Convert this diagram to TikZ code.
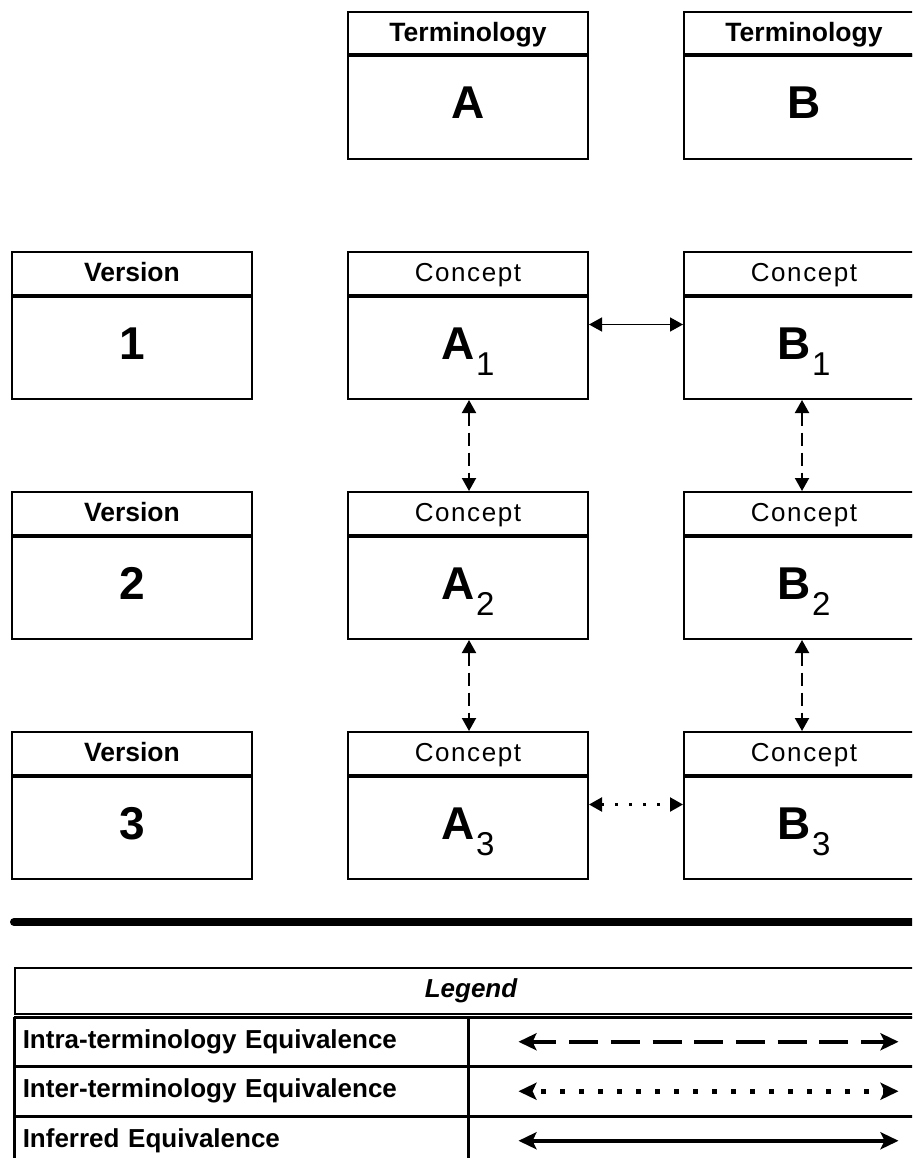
\documentclass[tikz,border=0pt]{standalone}
\usepackage{fontspec}
\setmainfont{Liberation Sans}
\newfontfamily\widesans[LetterSpace=6]{Liberation Sans}
\usetikzlibrary{arrows.meta}
% lowered index digit next to a big letter
\newcommand\lowidx[1]{\kern1.5pt\raisebox{-16pt}{\fontsize{33}{33}\selectfont\mdseries #1}}
\begin{document}
\begin{tikzpicture}[x=1pt,y=-1pt,
  frame/.style={draw=black, line width=2pt, inner sep=0pt, minimum width=240pt},
  headbox/.style={frame, anchor=north, minimum height=42.5pt, text height=20pt, text depth=3pt,
                  font=\fontsize{26.5}{30}\selectfont\bfseries},
  headplain/.style={headbox, font=\fontsize{26}{30}\selectfont\widesans},
  bodybox/.style={frame, anchor=north, minimum height=102.5pt},
  bigtext/.style={anchor=base, inner sep=0pt, font=\fontsize{46}{50}\selectfont\bfseries},
  sep/.style={line width=2.8pt},
  inferred/.style={line width=1.5pt, {Triangle[length=13pt,width=14pt]}-{Triangle[length=13pt,width=14pt]}},
  intra/.style={inferred, line width=2pt, dash pattern=on 13pt off 7pt},
  inter/.style={inferred, line width=2.2pt, dash pattern=on 2.2pt off 11.8pt},
  legcell/.style={draw=black, line width=1.5pt, anchor=north west, minimum height=48pt, inner sep=0pt},
  legtext/.style={legcell, text width=437pt, inner xsep=8pt, align=left, text height=18pt, text depth=5pt,
                  font=\fontsize{26}{30}\selectfont\bfseries},
  legarrow/.style={line width=4pt, {Stealth[length=18pt,width=17pt,inset=4pt]}-{Stealth[length=18pt,width=17pt,inset=4pt]}},
]
\useasboundingbox (0,0) rectangle (912,1158);
\clip (0,0) rectangle (912,1158);

% terminologies
\node[headbox] (tah) at (468,11) {Terminology};
\node[bodybox] (tab) at (tah.south) {};
\draw[sep] (tah.south west) -- (tah.south east);
\node[bigtext] (tat) at ([yshift=-63.5pt]tab.north) {A};

\node[headbox] (tbh) at (804,11) {Terminology};
\node[bodybox] (tbb) at (tbh.south) {};
\draw[sep] (tbh.south west) -- (tbh.south east);
\node[bigtext] (tbt) at ([yshift=-63.5pt]tbb.north) {B};

% versions
\foreach \r/\yy in {1/251,2/491,3/731}{
  \node[headbox] (v\r h) at (132,\yy) {Version};
  \node[bodybox] (v\r b) at (v\r h.south) {};
  \draw[sep] (v\r h.south west) -- (v\r h.south east);
  \node[bigtext] (v\r t) at ([yshift=-64pt]v\r b.north) {\r};
  % concepts of terminology A
  \node[headplain] (a\r h) at (468,\yy) {Concept};
  \node[bodybox] (a\r b) at (a\r h.south) {};
  \draw[sep] (a\r h.south west) -- (a\r h.south east);
  \node[bigtext] (a\r t) at ([yshift=-64pt]a\r b.north) {A\lowidx{\r}};
  % concepts of terminology B
  \node[headplain] (b\r h) at (804,\yy) {Concept};
  \node[bodybox] (b\r b) at (b\r h.south) {};
  \draw[sep] (b\r h.south west) -- (b\r h.south east);
  \node[bigtext] (b\r t) at ([yshift=-64pt]b\r b.north) {B\lowidx{\r}};
}

% equivalences between concepts
\draw[inferred] ([yshift=-29pt]a1b.north east) -- ([yshift=-29pt]b1b.north west);
\draw[inter] ([yshift=-29pt]a3b.north east) -- ([yshift=-29pt]b3b.north west);
\draw[intra] ([xshift=1pt]a1b.south) -- ([xshift=1pt]a2h.north);
\draw[intra] ([xshift=1pt]a2b.south) -- ([xshift=1pt]a3h.north);
\draw[intra] ([xshift=-2pt]b1b.south) -- ([xshift=-2pt]b2h.north);
\draw[intra] ([xshift=-2pt]b2b.south) -- ([xshift=-2pt]b3h.north);

% separating rule
\draw[line width=8pt, line cap=round] (14,922) -- (930,922);

% legend
\node[draw=black, line width=2pt, anchor=north west, minimum width=912pt, minimum height=46pt, inner sep=0pt,
      text height=18pt, text depth=5pt, font=\fontsize{26}{30}\selectfont\bfseries\itshape] (lg) at (14,967) {Legend};
\node[legtext] (r1) at (14,1017) {Intra-terminology Equivalence};
\node[legcell, minimum width=460pt] (r1a) at (r1.north east) {};
\node[legtext] (r2) at (r1.south west) {Inter-terminology Equivalence};
\node[legcell, minimum width=460pt] (r2a) at (r2.north east) {};
\node[legtext] (r3) at (r2.south west) {Inferred Equivalence};
\node[legcell, minimum width=460pt] (r3a) at (r3.north east) {};
\draw[line width=2pt] (r1.north west) -- (r3.south west);
\draw[line width=2pt] (r1.north west) -- (r1a.north east);

\draw[legarrow, line width=3.5pt, dash pattern=on 29pt off 12.7pt, dash phase=4pt]
  ([xshift=50pt]r1a.west) -- ([xshift=430pt]r1a.west);
\draw[legarrow, line width=4.5pt, dash pattern=on 4.5pt off 14.5pt, dash phase=9pt]
  ([xshift=50pt]r2a.west) -- ([xshift=430pt]r2a.west);
\draw[legarrow, line width=4.5pt]
  ([xshift=50pt]r3a.west) -- ([xshift=430pt]r3a.west);
\end{tikzpicture}
\end{document}
